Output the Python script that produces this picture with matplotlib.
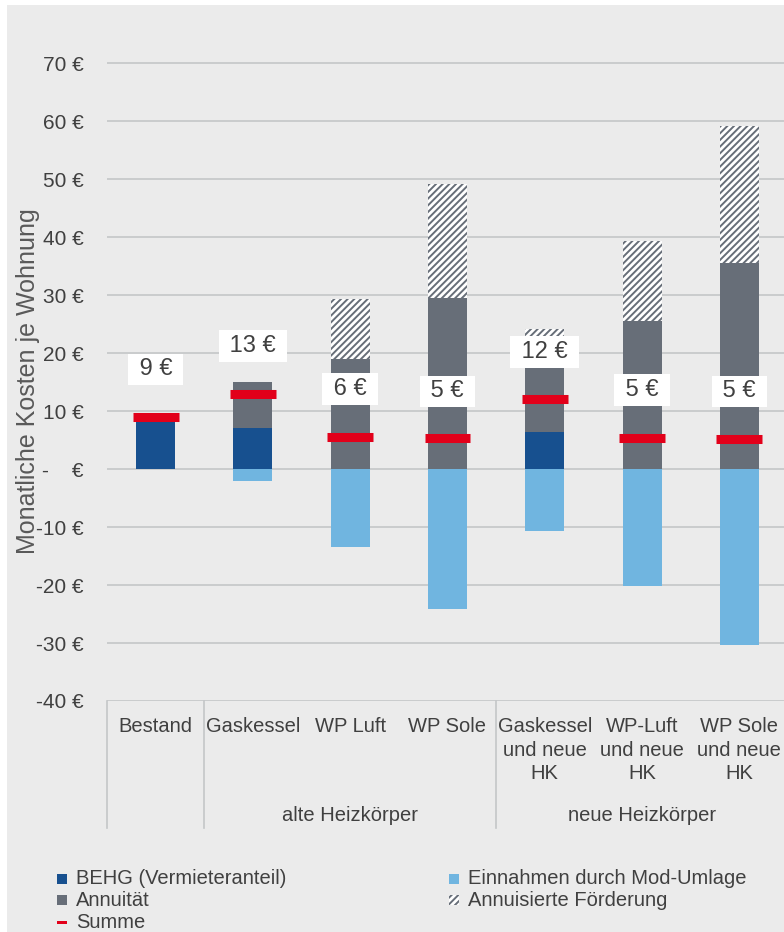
import numpy as np
import matplotlib
matplotlib.use("Agg")
import matplotlib.pyplot as plt
import matplotlib.transforms as mtransforms
from matplotlib.patches import Rectangle
from matplotlib.ticker import FuncFormatter

plt.rcParams['font.family'] = ['Liberation Sans', 'DejaVu Sans']
plt.rcParams['hatch.linewidth'] = 1.4

# Daten (Euro pro Monat und Wohnung)
kategorien = ["Bestand", "Gaskessel", "WP Luft", "WP Sole",
              "Gaskessel\nund neue\nHK", "WP-Luft\nund neue\nHK", "WP Sole\nund neue\nHK"]
gruppen = ["alte Heizkörper", "neue Heizkörper"]
behg = np.array([9.0, 7.0, 0, 0, 6.3, 0, 0])
annuitaet = np.array([0, 8.0, 19.0, 29.4, 16.4, 25.5, 35.5])
foerderung = np.array([0, 0, 10.3, 19.7, 1.5, 13.8, 23.6])
einnahmen = np.array([0, -2.1, -13.4, -24.1, -10.7, -20.2, -30.3])
summe = behg + annuitaet + einnahmen

# Lage der Datenbeschriftungen (wie im Original verschoben)
label_y = [17.2, 21.2, 13.8, 13.4, 20.2, 13.6, 13.4]

C_BEHG = "#17508f"
C_ANN = "#676e78"
C_EIN = "#70b5e0"
C_SUM = "#e2001a"
C_GRID = "#c4c6c8"
C_TXT = "#404040"
BG = "#ebebeb"

W, H = 784, 932
fig = plt.figure(figsize=(W / 100, H / 100), dpi=100)
fig.patch.set_facecolor("white")
fig.patches.append(Rectangle((7 / W, 0), 1, 1 - 5 / H, transform=fig.transFigure,
                             facecolor=BG, edgecolor="none", zorder=-5))

ax = fig.add_axes([107 / W, 1 - 701 / H, 681 / W, 667 / H])
ax.set_facecolor("none")

x = np.arange(len(kategorien))
bw = 0.4
ax.bar(x, behg, bw, color=C_BEHG, zorder=2)
ax.bar(x, annuitaet, bw, bottom=behg, color=C_ANN, zorder=2)
ax.bar(x, foerderung, bw, bottom=behg + annuitaet, color="white",
       edgecolor=C_ANN, hatch="/////", linewidth=0, zorder=2)
ax.bar(x, einnahmen, bw, color=C_EIN, zorder=2)
ax.hlines(summe, x - 0.235, x + 0.235, colors=C_SUM, linewidth=6.5, zorder=3)

for xi, s, ly in zip(x, summe, label_y):
    ax.text(xi, ly, f" {round(s):.0f} € ", ha="center", va="center",
            fontsize=17, color=C_TXT, zorder=5,
            bbox=dict(boxstyle="square,pad=0.2", facecolor="white", edgecolor="none"))

ax.set_xlim(-0.5, 6.5)
ax.set_ylim(-40, 75)
ax.set_yticks(np.arange(-40, 71, 10))
ax.yaxis.set_major_formatter(FuncFormatter(
    lambda v, p: "-    €" if v == 0 else f"{v:.0f} €"))
ax.tick_params(axis="y", length=0, pad=17, labelsize=15, labelcolor=C_TXT)
ax.set_xticks([])
ax.grid(axis="y", color=C_GRID, linewidth=1.2, zorder=1)
ax.set_axisbelow(True)
for sp in ax.spines.values():
    sp.set_visible(False)

# Kategorienachse mit zwei Ebenen
trans = mtransforms.blended_transform_factory(ax.transData, ax.transAxes)
for xs in [-0.5, 0.5, 3.5, 6.5]:
    ax.plot([xs, xs], [0, -0.19], color=C_GRID, linewidth=1.2,
            transform=trans, clip_on=False)
for xi, k in zip(x, kategorien):
    ax.text(xi, -0.024, k, transform=trans, ha="center", va="top",
            fontsize=14.5, color=C_TXT, linespacing=1.3)
ax.text(2, -0.171, gruppen[0], transform=trans, ha="center", va="center",
        fontsize=14.5, color=C_TXT)
ax.text(5, -0.171, gruppen[1], transform=trans, ha="center", va="center",
        fontsize=14.5, color=C_TXT)

fig.text(28 / W, 1 - 381 / H, "Monatliche Kosten je Wohnung", rotation=90,
         ha="center", va="center", fontsize=18, color="#595959")

# Legende
eintraege = [
    (57, 879, "box", C_BEHG, "BEHG (Vermieteranteil)"),
    (57, 900, "box", C_ANN, "Annuität"),
    (57, 922, "line", C_SUM, "Summe"),
    (449, 879, "box", C_EIN, "Einnahmen durch Mod-Umlage"),
    (449, 900, "hatch", C_ANN, "Annuisierte Förderung"),
]
for px, py, art, col, txt in eintraege:
    if art == "box":
        fig.patches.append(Rectangle((px / W, (H - py - 5) / H), 10 / W, 10 / H,
                                     transform=fig.transFigure, facecolor=col,
                                     edgecolor="none"))
    elif art == "hatch":
        fig.patches.append(Rectangle((px / W, (H - py - 5) / H), 10 / W, 10 / H,
                                     transform=fig.transFigure, facecolor="white",
                                     edgecolor=col, hatch="/////", linewidth=0))
    else:
        fig.patches.append(Rectangle((px / W, (H - py - 1.5) / H), 10 / W, 3 / H,
                                     transform=fig.transFigure, facecolor=col,
                                     edgecolor="none"))
    fig.text((px + 19) / W, 1 - py / H, txt, ha="left", va="center",
             fontsize=14.5, color=C_TXT)

fig.savefig("out.png", dpi=100, facecolor=fig.get_facecolor())
